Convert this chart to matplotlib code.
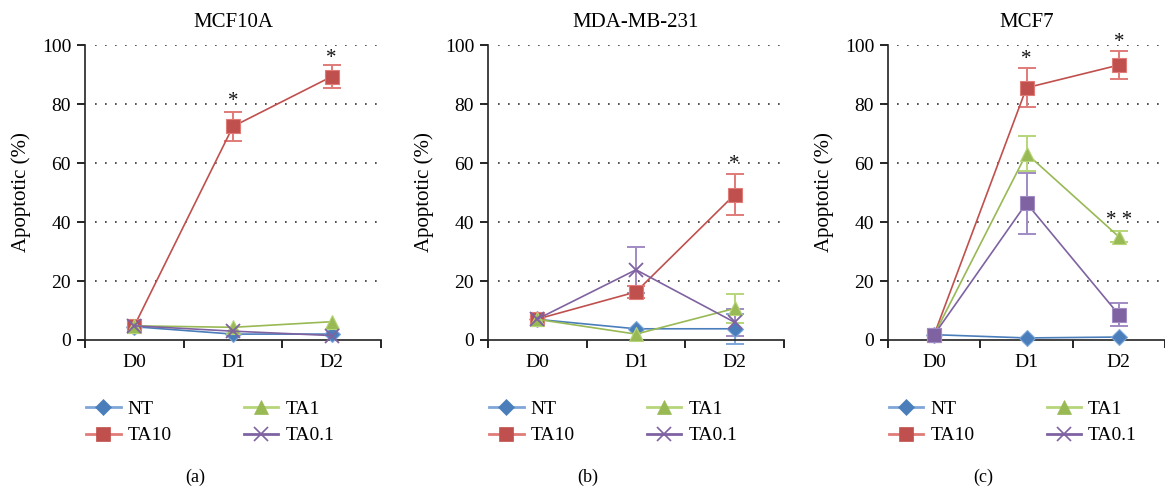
import numpy as np
import matplotlib.pyplot as plt
from matplotlib.lines import Line2D

plt.rcParams['font.family'] = ['Liberation Serif', 'DejaVu Serif']

days = ["D0", "D1", "D2"]
series_names = ["NT", "TA10", "TA1", "TA0.1"]
titles = ["MCF10A", "MDA-MB-231", "MCF7"]
sublabels = ["(a)", "(b)", "(c)"]

# MCF10A
a_nt = [4.5, 2.0, 2.0]
a_ta10 = [4.8, 72.4, 89.3]
a_ta1 = [4.8, 4.3, 6.2]
a_ta01 = [4.8, 3.0, 1.5]
a_ta10_err = [np.nan, 4.8, 4.0]

# MDA-MB-231
b_nt = [7.0, 3.8, 3.8]
b_ta10 = [7.1, 16.3, 49.3]
b_ta1 = [7.0, 2.0, 10.7]
b_ta01 = [7.1, 23.8, 6.0]
b_nt_err = [np.nan, np.nan, 5.0]
b_ta10_err = [np.nan, 2.0, 7.0]
b_ta1_err = [np.nan, np.nan, 4.9]
b_ta01_err = [np.nan, 7.8, 4.5]

# MCF7
c_nt = [1.8, 0.7, 1.0]
c_ta10 = [1.8, 85.5, 93.2]
c_ta1 = [1.8, 63.2, 35.0]
c_ta01 = [1.8, 46.4, 8.6]
c_ta10_err = [np.nan, 6.6, 4.6]
c_ta1_err = [np.nan, 6.0, 1.9]
c_ta01_err = [np.nan, 10.3, 4.0]

nan3 = [np.nan] * 3

# significance marks: (day index, y, text)
a_stars = [(1, 81, "*"), (2, 95.5, "*")]
b_stars = [(2, 59.5, "*")]
c_stars = [(1, 95, "*"), (2, 101, "*"), (2, 40.5, "* *")]

colors = {"NT": "#4a7ebb", "TA10": "#c0504d", "TA1": "#98b954", "TA0.1": "#7f62a1"}
err_colors = {"NT": "#7ea6d8", "TA10": "#e07b78", "TA1": "#b7d67a", "TA0.1": "#a08bc4"}
markers = {"NT": "D", "TA10": "s", "TA1": "^", "TA0.1": "x"}
msizes = {"NT": 8.5, "TA10": 10, "TA1": 10, "TA0.1": 9.5}

panels = [
    {"NT": (a_nt, nan3), "TA10": (a_ta10, a_ta10_err), "TA1": (a_ta1, nan3), "TA0.1": (a_ta01, nan3)},
    {"NT": (b_nt, b_nt_err), "TA10": (b_ta10, b_ta10_err), "TA1": (b_ta1, b_ta1_err), "TA0.1": (b_ta01, b_ta01_err)},
    {"NT": (c_nt, nan3), "TA10": (c_ta10, c_ta10_err), "TA1": (c_ta1, c_ta1_err), "TA0.1": (c_ta01, c_ta01_err)},
]
stars = [a_stars, b_stars, c_stars]

W, H = 1165, 490
fig = plt.figure(figsize=(W / 100, H / 100), dpi=100)
boxes = [(85, 296), (488, 296), (888, 277)]
label_x = [195, 588, 983]

x = np.arange(3)
for i, (left, width) in enumerate(boxes):
    ax = fig.add_axes([left / W, 1 - 340 / H, width / W, 295 / H])
    for name in series_names:
        vals, errs = panels[i][name]
        mk = markers[name]
        ms = msizes[name]
        if i == 2 and name == "TA0.1":
            mk = "s"
            ms = 10
        ax.errorbar(x, vals, yerr=errs, fmt="none", ecolor=err_colors[name],
                    elinewidth=1.4, capsize=6.5, capthick=1.4, zorder=2, clip_on=False)
        ax.plot(x, vals, color=colors[name], lw=1.2, marker=mk, markersize=ms,
                markerfacecolor=colors[name], markeredgecolor=err_colors[name] if mk != "x" else colors[name],
                markeredgewidth=1.3 if mk == "x" else 0.8, zorder=3, clip_on=False)
    for (d, yv, txt) in stars[i]:
        ax.text(d, yv, txt, ha="center", va="center", fontsize=15, color="#111111")

    ax.set_xlim(-0.5, 2.5)
    ax.set_ylim(0, 100)
    ax.hlines([20, 40, 60, 80, 100], -0.4, 2.5, colors="#333333", lw=1.2,
              linestyles=(0, (1, 5)), zorder=1)
    ax.set_yticks([0, 20, 40, 60, 80, 100])
    ax.tick_params(axis="y", labelsize=14, length=6, width=1.2, pad=4, direction="out")
    ax.set_xticks(x)
    ax.set_xticklabels(days)
    ax.set_xticks([-0.5, 0.5, 1.5, 2.5], minor=True)
    ax.tick_params(axis="x", which="major", length=0, labelsize=14, pad=10)
    ax.tick_params(axis="x", which="minor", length=6, width=1.2, direction="out")
    for s in ["top", "right"]:
        ax.spines[s].set_visible(False)
    for s in ["left", "bottom"]:
        ax.spines[s].set_linewidth(1.2)
        ax.spines[s].set_color("#222222")
    ax.set_ylabel("Apoptotic (%)", fontsize=15, labelpad=8)
    ax.set_title(titles[i], fontsize=15, pad=13)

    handles = []
    for name in series_names:
        handles.append(Line2D([0], [0], color=err_colors[name] if name != "TA0.1" else colors[name],
                              lw=2, marker=markers[name], markersize=msizes[name],
                              markerfacecolor=colors[name],
                              markeredgecolor=colors[name], markeredgewidth=1.2 if name == "TA0.1" else 0.5,
                              label=name))
    ax.legend(handles=handles, ncol=2, loc="upper left", bbox_to_anchor=(0.005, -0.205),
              frameon=False, fontsize=14, handlelength=1.75, handletextpad=0.35,
              columnspacing=3.75, labelspacing=0.45, borderpad=0, borderaxespad=0)

    fig.text(label_x[i] / W, 1 - 477 / H, sublabels[i], ha="center", va="center", fontsize=13)

fig.savefig("out.png", dpi=100)
